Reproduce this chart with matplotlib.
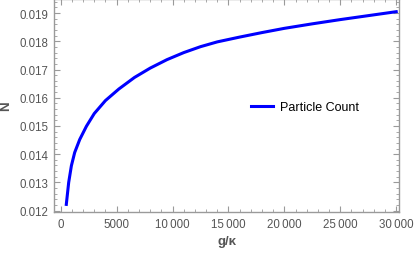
import matplotlib
matplotlib.use('Agg')
import matplotlib.pyplot as plt
from matplotlib.ticker import MultipleLocator

# values
g_kappa = [500, 714, 955, 1250, 1700, 2300, 3000, 4000, 5200, 6600, 8000,
           9500, 11000, 12500, 14000, 16000, 18000, 20000, 22500, 25000,
           27500, 30000]
particle_count = [0.01222, 0.01300, 0.01359, 0.01406, 0.01452, 0.01499,
                  0.01544, 0.01590, 0.01631, 0.01672, 0.01705, 0.01735,
                  0.01760, 0.01781, 0.01798, 0.01815, 0.01831, 0.01846,
                  0.01862, 0.01877, 0.01891, 0.01905]

plt.rcParams['font.family'] = ['Liberation Sans', 'DejaVu Sans']
frame_col = '#9a9a9a'
text_col = '#555555'

fig = plt.figure(figsize=(4.15, 2.55), dpi=100)
ax = fig.add_axes([54 / 415, 42 / 255, 345 / 415, 213 / 255])

ax.plot(g_kappa, particle_count, color=(0, 0, 1), lw=2.2,
        label='Particle Count')

ax.set_xlim(-600, 30250)
ax.set_ylim(0.01195, 0.0195)
ax.xaxis.set_minor_locator(MultipleLocator(1000))
ax.yaxis.set_major_locator(MultipleLocator(0.001))
ax.yaxis.set_minor_locator(MultipleLocator(0.0002))
ax.set_xticks([0, 5000, 10000, 15000, 20000, 25000, 30000])
ax.set_xticklabels(['0', '5000', '10\u2009000', '15\u2009000', '20\u2009000',
                    '25\u2009000', '30\u2009000'])
ax.yaxis.set_major_formatter(plt.FuncFormatter(lambda v, p: '%.3f' % v))

for s in ax.spines.values():
    s.set_color(frame_col)
    s.set_linewidth(1.0)
ax.tick_params(which='both', direction='in', top=True, right=True,
               color=frame_col, labelcolor=text_col, labelsize=8.3)
ax.tick_params(which='major', length=4, width=0.8, pad=4)
ax.tick_params(which='minor', length=2, width=0.6)

ax.set_xlabel('g/\u03ba', fontsize=9.5, fontweight='bold', color=text_col,
              labelpad=4)
ax.set_ylabel('N', fontsize=9.5, fontweight='bold', color=text_col,
              labelpad=5)

ax.legend(loc='center left', bbox_to_anchor=(0.571, 0.493), frameon=False,
          fontsize=9, handlelength=1.75, handletextpad=0.6, borderpad=0,
          borderaxespad=0)

fig.savefig('out.png', dpi=100)
